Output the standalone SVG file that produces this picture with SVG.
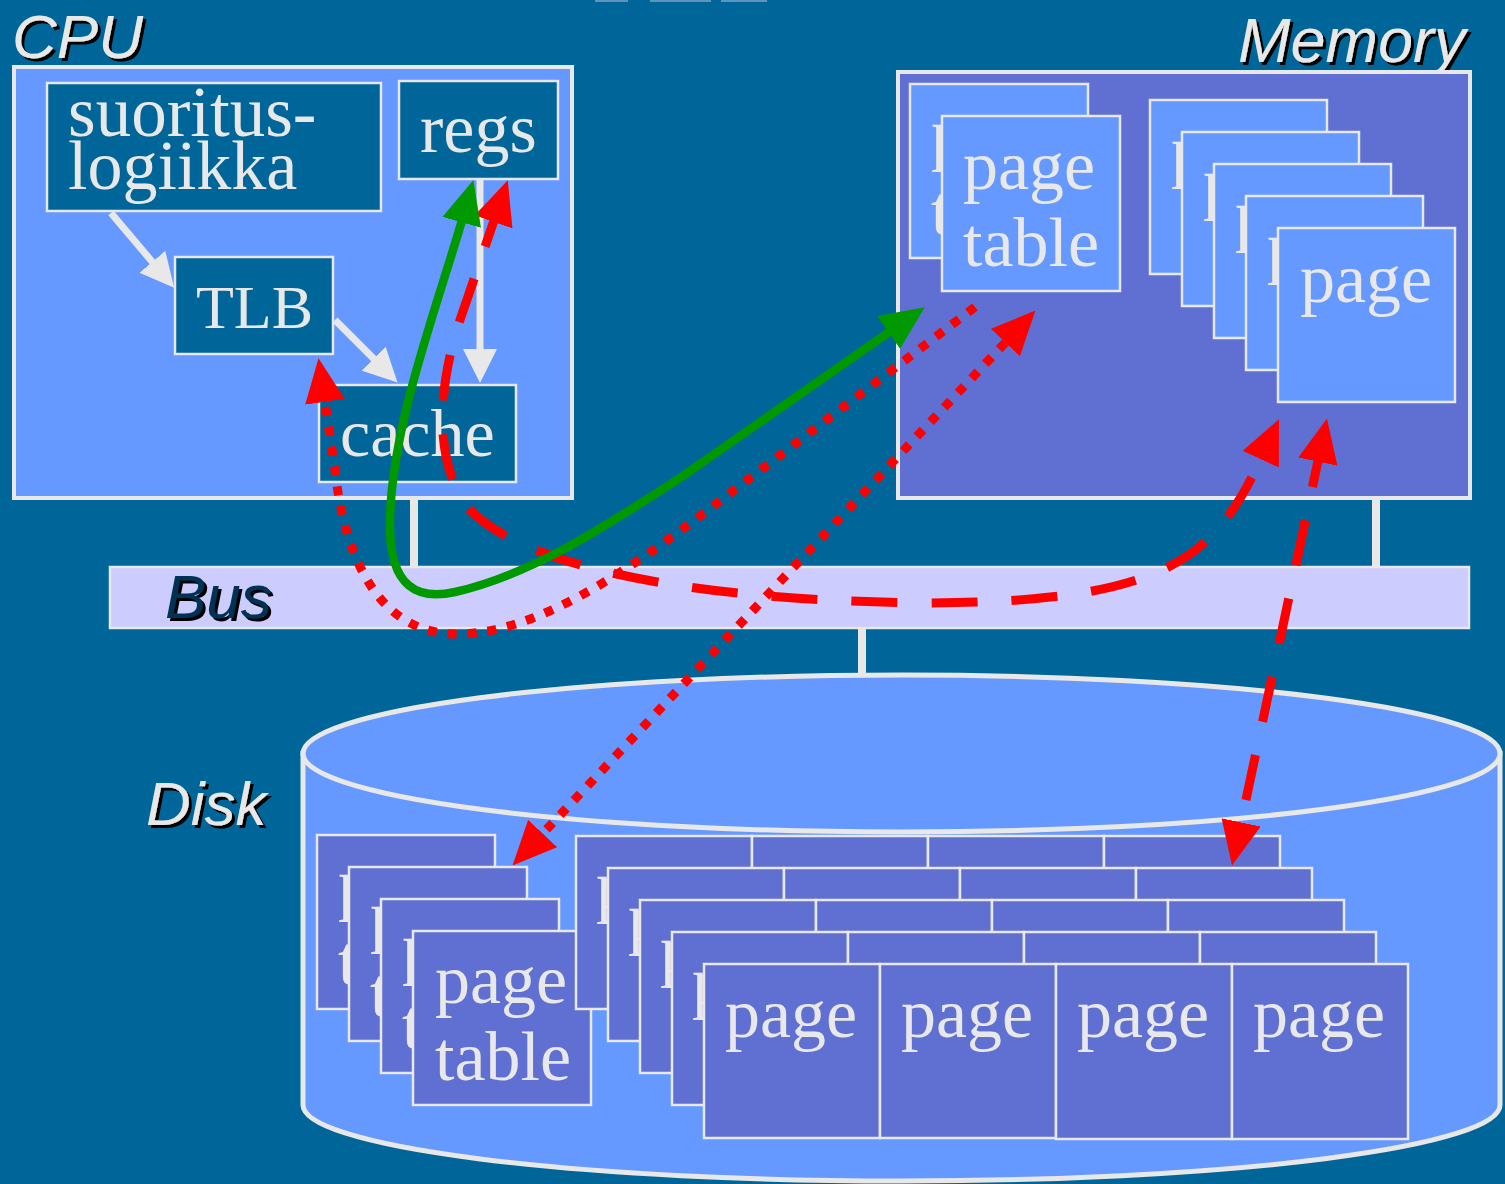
<svg xmlns="http://www.w3.org/2000/svg" width="1505" height="1184" viewBox="0 0 1505 1184">
<defs>
<style>
.bg{fill:#006699}
.box{stroke:#E8E8E8;stroke-width:4}
.cpu{fill:#6699FF}
.mem{fill:#5F70D2}
.dark{fill:#006699;stroke:#E8E8E8;stroke-width:2.5}
.lp{fill:#6699FF;stroke:#E8E8E8;stroke-width:2.5}
.dp{fill:#5F70D2;stroke:#E8E8E8;stroke-width:2.5}
.sf{font-family:"Liberation Serif","Times New Roman",serif;font-size:70px;fill:#E8E8E8}
.lbl{font-family:"Liberation Sans",Arial,sans-serif;font-style:italic;font-size:62px;fill:#E8E8E8}
.bus{font-family:"Liberation Sans",Arial,sans-serif;font-style:italic;font-size:62px;fill:#003355}
.wire{stroke:#E8E8E8;stroke-width:8;fill:none}
.warr{stroke:#E8E8E8;stroke-width:7;fill:none}
.green{stroke:#009900;stroke-width:8.5;fill:none}
.rdash{stroke:#FF0000;stroke-width:9;fill:none;stroke-dasharray:46 34}
.rdot{stroke:#FF0000;stroke-width:9;fill:none;stroke-dasharray:9 11}
</style>
<filter id="sh" x="-10%" y="-10%" width="130%" height="140%">
<feDropShadow dx="3" dy="3" stdDeviation="0.4" flood-color="#000000" flood-opacity="1"/>
</filter>
<marker id="rh" markerUnits="userSpaceOnUse" viewBox="0 0 44 40" markerWidth="44" markerHeight="40" refX="20" refY="20" orient="auto-start-reverse"><path d="M0,0 L44,20 L0,40 Z" fill="#FF0000"/></marker>
<marker id="gh" markerUnits="userSpaceOnUse" viewBox="0 0 44 40" markerWidth="44" markerHeight="40" refX="20" refY="20" orient="auto-start-reverse"><path d="M0,0 L44,20 L0,40 Z" fill="#009900"/></marker>
<marker id="wh" markerUnits="userSpaceOnUse" viewBox="0 0 34 34" markerWidth="34" markerHeight="34" refX="12" refY="17" orient="auto"><path d="M0,0 L34,17 L0,34 Z" fill="#E8E8E8"/></marker>
</defs>
<rect class="bg" x="0" y="0" width="1505" height="1184"/>
<g id="topmarks" fill="#5d93bd">
<rect x="595" y="0" width="33" height="2"/><rect x="650" y="0" width="61" height="2"/><rect x="721" y="0" width="46" height="2"/>
</g>

<g id="wires">
<line class="wire" x1="414" y1="498" x2="414" y2="568"/>
<line class="wire" x1="1376" y1="498" x2="1376" y2="568"/>
<line class="wire" x1="862" y1="628" x2="862" y2="678"/>
</g>

<g id="cpu">
<text class="lbl" x="12" y="58" filter="url(#sh)">CPU</text>
<rect class="box cpu" x="14" y="67" width="558" height="431"/>
<g id="suoritus"><rect class="dark" x="47" y="83" width="334" height="128"/>
<text class="sf" x="68" y="136" style="font-size:71px">suoritus-</text><text class="sf" x="68" y="189">logiikka</text></g>
<g id="regs"><rect class="dark" x="399" y="81" width="159" height="98"/><text class="sf" x="420" y="152">regs</text></g>
<g id="tlb"><rect class="dark" x="175" y="257" width="158" height="97"/><text class="sf" x="196" y="328" style="font-size:62px">TLB</text></g>
<g id="cache"><rect class="dark" x="319" y="385" width="197" height="97"/><text class="sf" x="340" y="456" style="font-size:68px">cache</text></g>
<g id="cpu-arrows">
<path class="warr" d="M111,213 L160,271" marker-end="url(#wh)"/>
<path class="warr" d="M335,320 L382,367" marker-end="url(#wh)"/>
<path class="warr" d="M480,180 L480,361" marker-end="url(#wh)"/>
</g>
</g>

<g id="memory">
<text class="lbl" x="1238" y="62" filter="url(#sh)" style="font-size:63px">Memory</text>
<rect class="box mem" x="898" y="72" width="572" height="426"/>
<g id="mem-pagetable">
<rect class="lp" x="910" y="84" width="178" height="174"/><text class="sf" x="931" y="157">p</text><text class="sf" x="931" y="234">t</text>
<rect class="lp" x="942" y="116" width="178" height="175"/><text class="sf" x="963" y="189">page</text><text class="sf" x="963" y="266">table</text>
</g>
<g id="mem-pages">
<rect class="lp" x="1150" y="100" width="177" height="174"/><text class="sf" x="1171" y="174">p</text>
<rect class="lp" x="1182" y="132" width="177" height="174"/><text class="sf" x="1203" y="206">p</text>
<rect class="lp" x="1214" y="164" width="177" height="174"/><text class="sf" x="1235" y="238">p</text>
<rect class="lp" x="1246" y="196" width="177" height="174"/><text class="sf" x="1267" y="270">p</text>
<rect class="lp" x="1278" y="228" width="177" height="174"/><text class="sf" x="1300" y="302">page</text>
</g>
</g>

<g id="bus">
<rect x="110" y="567" width="1359" height="61" fill="#CCCCFF" stroke="#E8E8E8" stroke-width="2.5"/>
<text class="bus" x="165" y="618" filter="url(#sh)">Bus</text>
</g>

<g id="disk">
<path d="M303,753 L303,1105 A598.5,76 0 0 0 1500,1105 L1500,753 Z" fill="#6699FF" stroke="#E8E8E8" stroke-width="5"/>
<ellipse cx="901.5" cy="753.5" rx="598.5" ry="78.5" fill="#6699FF" stroke="#E8E8E8" stroke-width="5"/>
<text class="lbl" x="146" y="825" filter="url(#sh)">Disk</text>
<g id="disk-pagetables">
<rect class="dp" x="317" y="835" width="178" height="174"/><text class="sf" x="338" y="907">p</text><text class="sf" x="338" y="984">t</text>
<rect class="dp" x="349" y="867" width="178" height="174"/><text class="sf" x="370" y="939">p</text><text class="sf" x="370" y="1016">t</text>
<rect class="dp" x="381" y="899" width="178" height="174"/><text class="sf" x="402" y="971">p</text><text class="sf" x="402" y="1048">t</text>
<rect class="dp" x="413" y="931" width="178" height="174"/><text class="sf" x="435" y="1003">page</text><text class="sf" x="435" y="1080">table</text>
</g>
<g id="disk-pages">
<rect class="dp" x="576" y="836" width="176" height="173"/><rect class="dp" x="752" y="836" width="176" height="173"/><rect class="dp" x="928" y="836" width="176" height="173"/><rect class="dp" x="1104" y="836" width="176" height="173"/>
<text class="sf" x="596" y="909">p</text>
<rect class="dp" x="608" y="868" width="176" height="173"/><rect class="dp" x="784" y="868" width="176" height="173"/><rect class="dp" x="960" y="868" width="176" height="173"/><rect class="dp" x="1136" y="868" width="176" height="173"/>
<text class="sf" x="628" y="941">p</text>
<rect class="dp" x="640" y="900" width="176" height="173"/><rect class="dp" x="816" y="900" width="176" height="173"/><rect class="dp" x="992" y="900" width="176" height="173"/><rect class="dp" x="1168" y="900" width="176" height="173"/>
<text class="sf" x="660" y="973">p</text>
<rect class="dp" x="672" y="932" width="176" height="173"/><rect class="dp" x="848" y="932" width="176" height="173"/><rect class="dp" x="1024" y="932" width="176" height="173"/><rect class="dp" x="1200" y="932" width="176" height="173"/>
<text class="sf" x="692" y="1005">p</text>
<rect class="dp" x="704" y="964" width="176" height="174"/><rect class="dp" x="880" y="964" width="176" height="174"/><rect class="dp" x="1056" y="964" width="176" height="175"/><rect class="dp" x="1232" y="964" width="176" height="175"/>
<text class="sf" x="725" y="1037">page</text><text class="sf" x="901" y="1037">page</text><text class="sf" x="1077" y="1037">page</text><text class="sf" x="1253" y="1037">page</text>
</g>
</g>

<g id="connectors">
<path class="rdot" d="M975,307 L750,478 C680,530 560,632 460,634 C380,636 345,560 335,470 L322,382" marker-end="url(#rh)"/>
<path class="rdot" d="M1019,328 L529,848" marker-start="url(#rh)" marker-end="url(#rh)"/>
<path class="rdash" d="M500,203 L460,320 C440,380 430,460 470,510 C530,570 700,600 920,603 C1100,603 1180,580 1225,520 C1245,495 1258,465 1269,441" marker-start="url(#rh)" marker-end="url(#rh)"/>
<path class="rdash" d="M1322,442 L1237,842" marker-start="url(#rh)" marker-end="url(#rh)"/>
<path class="green" d="M467,203 C440,300 392,420 390,520 C388,590 420,600 455,592 C530,575 600,530 680,478 L905,321" marker-start="url(#gh)" marker-end="url(#gh)"/>
</g>
</svg>
